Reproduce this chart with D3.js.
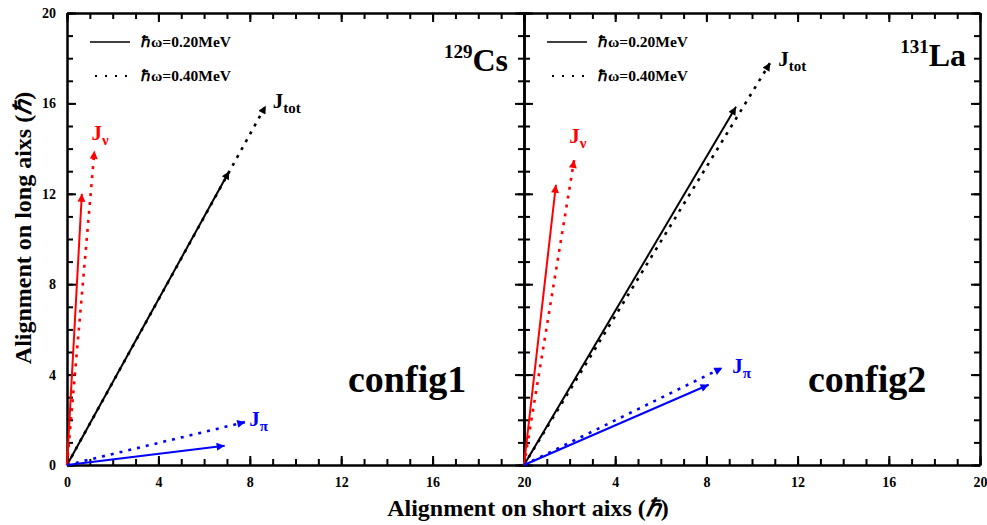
<!DOCTYPE html>
<html>
<head>
<meta charset="utf-8">
<script src="https://cdn.jsdelivr.net/npm/d3@7"></script>
<style>
  body { margin: 0; background: #fff; }
  svg text { font-family: "Liberation Serif", "Times New Roman", serif; font-weight: bold; }
</style>
</head>
<body>
<div id="chart"></div>
<script>
// tips of the angular momentum vectors (short axis, long axis), in hbar
var vectors = ["Jtot", "Jnu", "Jpi"];
var colors = ["#000000", "#ff0000", "#0000ff"];
var cs129_w020 = [[7.1, 13.0], [0.65, 12.0], [6.9, 0.85]];
var cs129_w040 = [[8.7, 15.9], [1.2, 13.9], [7.8, 1.9]];
var la131_w020 = [[9.3, 15.85], [1.4, 12.4], [8.1, 3.55]];
var la131_w040 = [[10.8, 17.8], [2.2, 13.5], [8.7, 4.3]];
var nuclei = [{mass: "129", sym: "Cs"}, {mass: "131", sym: "La"}];
var configs = ["config1", "config2"];
var legendLabels = ["\u210F\u03C9=0.20MeV", "\u210F\u03C9=0.40MeV"];
var majorTicks = [0, 4, 8, 12, 16, 20];
var minorTicks = d3.range(0, 21, 1);

var width = 987, height = 525;
var svg = d3.select("#chart").append("svg")
    .attr("width", width)
    .attr("height", height);

// one shared y, two x scales side by side
var y = d3.scaleLinear().domain([0, 20]).range([465, 13]);
var xs = [
  d3.scaleLinear().domain([0, 20]).range([67, 524]),
  d3.scaleLinear().domain([0, 20]).range([524, 980])
];
var panelData = [[cs129_w020, cs129_w040], [la131_w020, la131_w040]];

// arrow heads
var defs = svg.append("defs");
colors.forEach(function(c, i) {
  defs.append("marker")
      .attr("id", "arrow" + i)
      .attr("viewBox", "0 0 10 10")
      .attr("refX", 10).attr("refY", 5)
      .attr("markerWidth", 11).attr("markerHeight", 8)
      .attr("markerUnits", "userSpaceOnUse")
      .attr("orient", "auto")
    .append("path")
      .attr("d", "M0,0 L10,5 L0,10 z")
      .attr("fill", c);
});

function styleAxis(g) {
  g.selectAll(".domain").attr("stroke-width", 2);
  g.selectAll(".tick line").attr("stroke-width", 2);
  g.selectAll("text").style("font-size", "14px").attr("fill", "#000");
}

xs.forEach(function(x, p) {
  var top = y(20), bottom = y(0);
  var left = x(0), right = x(20);

  // minor ticks all around
  svg.append("g").attr("transform", "translate(0," + bottom + ")")
      .call(d3.axisBottom(x).tickValues(minorTicks).tickFormat("").tickSizeInner(-6).tickSizeOuter(0)).call(styleAxis);
  svg.append("g").attr("transform", "translate(0," + top + ")")
      .call(d3.axisTop(x).tickValues(minorTicks).tickFormat("").tickSizeInner(-6).tickSizeOuter(0)).call(styleAxis);
  svg.append("g").attr("transform", "translate(" + left + ",0)")
      .call(d3.axisLeft(y).tickValues(minorTicks).tickFormat("").tickSizeInner(-6).tickSizeOuter(0)).call(styleAxis);
  svg.append("g").attr("transform", "translate(" + right + ",0)")
      .call(d3.axisRight(y).tickValues(minorTicks).tickFormat("").tickSizeInner(-6).tickSizeOuter(0)).call(styleAxis);

  // major ticks
  svg.append("g").attr("transform", "translate(0," + bottom + ")")
      .call(d3.axisBottom(x).tickValues(p === 0 ? majorTicks : majorTicks.slice(1))
        .tickFormat(d3.format("d")).tickSizeInner(-9).tickSizeOuter(0).tickPadding(12))
      .call(styleAxis);
  svg.append("g").attr("transform", "translate(0," + top + ")")
      .call(d3.axisTop(x).tickValues(majorTicks).tickFormat("").tickSizeInner(-9).tickSizeOuter(0)).call(styleAxis);
  svg.append("g").attr("transform", "translate(" + left + ",0)")
      .call(d3.axisLeft(y).tickValues(majorTicks)
        .tickFormat(p === 0 ? d3.format("d") : "").tickSizeInner(-9).tickSizeOuter(0).tickPadding(11))
      .call(styleAxis);
  svg.append("g").attr("transform", "translate(" + right + ",0)")
      .call(d3.axisRight(y).tickValues(majorTicks).tickFormat("").tickSizeInner(-9).tickSizeOuter(0)).call(styleAxis);

  // vectors: solid = 0.20 MeV, dotted = 0.40 MeV
  panelData[p].forEach(function(set, s) {
    set.forEach(function(tip, i) {
      svg.append("line")
          .attr("x1", x(0)).attr("y1", y(0))
          .attr("x2", x(tip[0])).attr("y2", y(tip[1]))
          .attr("stroke", colors[i])
          .attr("stroke-width", s === 0 ? 2 : 2.6)
          .attr("stroke-dasharray", s === 0 ? null : "3,6")
          .attr("marker-end", "url(#arrow" + i + ")");
    });
  });

  // vector labels next to the dotted tips
  var dotted = panelData[p][1];
  var offsets = p === 0
    ? [[7, 2], [-3, -11], [4, 4]]
    : [[8, 3], [-5, -17], [10, 5]];
  var subs = ["tot", "\u03BD", "\u03C0"];
  vectors.forEach(function(v, i) {
    var t = svg.append("text")
        .attr("x", x(dotted[i][0]) + offsets[i][0])
        .attr("y", y(dotted[i][1]) + offsets[i][1])
        .attr("fill", colors[i])
        .style("font-size", "21px");
    t.append("tspan").text("J");
    t.append("tspan").attr("dy", 5).style("font-size", "15px").text(subs[i]);
  });

  // legend
  var lx = x(0) + 23;
  [42, 76].forEach(function(ly, s) {
    svg.append("line")
        .attr("x1", lx + (s === 0 ? 0 : 5)).attr("x2", lx + 40)
        .attr("y1", ly).attr("y2", ly)
        .attr("stroke", "#000")
        .attr("stroke-width", s === 0 ? 1.5 : 2)
        .attr("stroke-dasharray", s === 0 ? null : "2,8");
    svg.append("text")
        .attr("x", lx + 51).attr("y", ly + 5)
        .style("font-size", "15.5px")
        .text(legendLabels[s]);
  });

  // nucleus label
  var nl = svg.append("text")
      .attr("x", right - (p === 0 ? 16 : 14))
      .attr("y", p === 0 ? 71 : 66)
      .attr("text-anchor", "end")
      .style("font-size", "32px");
  nl.append("tspan").attr("dy", -13).style("font-size", "19px").text(nuclei[p].mass);
  nl.append("tspan").attr("dy", 13).text(nuclei[p].sym);

  // configuration label
  svg.append("text")
      .attr("x", x(0) + (p === 0 ? 281 : 284))
      .attr("y", 392)
      .style("font-size", "38px")
      .text(configs[p]);
});

// axis titles
var yTitle = svg.append("text")
    .attr("transform", "translate(31,228) rotate(-90)")
    .attr("text-anchor", "middle")
    .style("font-size", "24px");
yTitle.append("tspan").text("Alignment on long aixs (");
yTitle.append("tspan").style("font-style", "italic").text("\u210F");
yTitle.append("tspan").text(")");

var xTitle = svg.append("text")
    .attr("x", 528).attr("y", 516)
    .attr("text-anchor", "middle")
    .style("font-size", "24px");
xTitle.append("tspan").text("Alignment on short aixs (");
xTitle.append("tspan").style("font-style", "italic").text("\u210F");
xTitle.append("tspan").text(")");
</script>
</body>
</html>
